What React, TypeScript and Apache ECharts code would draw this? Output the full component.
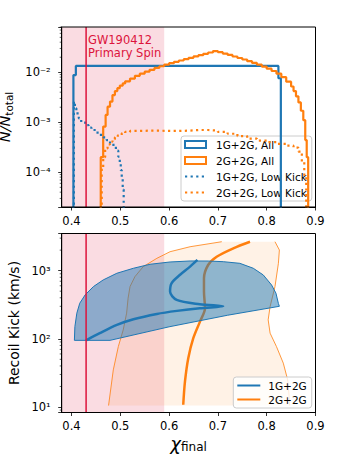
import React, { useEffect, useRef } from 'react';
import * as echarts from 'echarts';

// ---------- axes ----------
const xMin = 0.38;
const xMax = 0.9;
const xTicks = [0.4, 0.5, 0.6, 0.7, 0.8, 0.9];
const topYMin = 2.02e-5;
const topYMax = 0.0805;
const botYMin = 8.3;
const botYMax = 3510;
const floorVal = 1e-7;

// ---------- observation ----------
const spinObs = 0.43;
const spanRange = [0.38, 0.59];

// ---------- top panel: histograms (bin edges + heights) ----------
const blueAllEdges = [0.404, 0.409, 0.824, 0.829];
const blueAllHeights = [0.0088, 0.0134, 0.0076];

const orangeAllEdges = [
  0.46, 0.465, 0.47, 0.474, 0.479, 0.484, 0.489, 0.494, 0.499, 0.505, 0.51,
  0.52, 0.53, 0.54, 0.55, 0.56, 0.57, 0.58, 0.59, 0.6, 0.61, 0.62, 0.63, 0.64,
  0.65, 0.66, 0.67, 0.68, 0.69, 0.7, 0.71, 0.72, 0.73, 0.74, 0.75, 0.76, 0.77,
  0.78, 0.79, 0.8, 0.81, 0.82, 0.83, 0.84, 0.85, 0.855, 0.86, 0.865, 0.87,
  0.875, 0.879, 0.882, 0.885,
];
const orangeAllHeights = [
  2.0e-4, 8.2e-4, 1.4e-3, 2.05e-3, 2.6e-3, 3.5e-3, 4.2e-3, 4.8e-3, 5.4e-3, 6.0e-3, 6.6e-3,
  7.5e-3, 8.5e-3, 9.4e-3, 0.0103, 0.0112, 0.0122, 0.0132, 0.0142, 0.0152, 0.0162, 0.0172,
  0.0183, 0.0195, 0.0208, 0.022, 0.0234, 0.0249, 0.0265, 0.0252, 0.0237, 0.0222, 0.0207,
  0.0193, 0.018, 0.0167, 0.0154, 0.0142, 0.013, 0.0118, 0.0106, 0.0094, 0.008, 0.0065,
  0.0052, 0.0042, 0.0033, 0.0025, 0.0017, 0.0011, 4.4e-4, 2.0e-4,
];

const blueLowEdges = [
  0.405, 0.407, 0.41, 0.415, 0.42, 0.428, 0.435, 0.441, 0.45, 0.458, 0.465, 0.472,
  0.479, 0.486, 0.491, 0.496, 0.499, 0.501, 0.503, 0.505, 0.507,
];
const blueLowHeights = [
  2.6e-3, 1.9e-3, 1.5e-3, 1.2e-3, 1.0e-3, 8.8e-4, 7.8e-4, 7.0e-4, 6.2e-4, 5.6e-4, 5.0e-4,
  4.4e-4, 3.8e-4, 3.3e-4, 2.7e-4, 2.05e-4, 1.5e-4, 1.1e-4, 7.5e-5, 4.5e-5,
];

const orangeLowEdges = [
  0.462, 0.465, 0.469, 0.474, 0.479, 0.484, 0.489, 0.495, 0.503, 0.51, 0.52, 0.54, 0.56,
  0.58, 0.6, 0.62, 0.64, 0.66, 0.68, 0.7, 0.72, 0.74, 0.76, 0.78, 0.8, 0.82, 0.84, 0.855,
  0.865, 0.872, 0.877, 0.881,
];
const orangeLowHeights = [
  1.2e-4, 2.0e-4, 3.0e-4, 3.6e-4, 4.1e-4, 4.6e-4, 5.0e-4, 5.5e-4, 6.0e-4, 6.4e-4, 6.7e-4,
  6.8e-4, 6.8e-4, 6.7e-4, 6.7e-4, 6.8e-4, 7.0e-4, 7.0e-4, 6.8e-4, 6.4e-4, 5.9e-4, 5.3e-4,
  4.7e-4, 4.3e-4, 4.0e-4, 3.7e-4, 3.4e-4, 3.1e-4, 2.6e-4, 1.6e-4, 8.0e-5,
];

// ---------- bottom panel ----------
const blueBandChi = [
  0.406, 0.407, 0.411, 0.417, 0.428, 0.445, 0.465, 0.493, 0.527, 0.561, 0.602, 0.643,
  0.68, 0.711, 0.745, 0.7725, 0.793, 0.81, 0.819, 0.824, 0.826, 0.72, 0.6, 0.479, 0.406,
];
const blueBandKick = [
  95, 151, 238, 333, 441, 584, 731, 916, 1085, 1241, 1341, 1387, 1385, 1355, 1282, 1085,
  865, 617, 467, 330, 300, 222, 150, 95, 95,
];
const blueMedChi = [
  0.43, 0.458, 0.493, 0.527, 0.575, 0.616, 0.663, 0.711, 0.663, 0.6156, 0.602, 0.605,
  0.622, 0.643, 0.658,
];
const blueMedKick = [95, 121, 160, 194, 232, 257, 281, 300, 322, 373, 493, 653, 865, 1146, 1436];

const orangeMedChi = [
  0.629, 0.6326, 0.6393, 0.6496, 0.6633, 0.6736, 0.6715, 0.6715, 0.68, 0.6975, 0.7316, 0.7658,
];
const orangeMedKick = [10.8, 23.7, 52, 102, 179, 281, 493, 774, 1211, 1603, 2128, 2660];

const orangeLeftChi = [
  0.476, 0.4857, 0.496, 0.506, 0.513, 0.516, 0.52, 0.53, 0.547, 0.575, 0.602, 0.643, 0.708,
];
const orangeLeftKick = [10.5, 35, 77, 135, 238, 394, 584, 817, 1146, 1518, 1897, 2244, 2660];
const orangeRightChi = [
  0.817, 0.826, 0.824, 0.817, 0.807, 0.803, 0.807, 0.82, 0.834, 0.843, 0.846, 0.847,
];
const orangeRightKick = [2660, 2010, 1282, 584, 297, 190, 121, 77, 44, 25, 14.3, 10.5];

// ---------- minor ticks of the log axes ----------
const topMinorTicks = [
  3e-5, 4e-5, 5e-5, 6e-5, 7e-5, 8e-5, 9e-5,
  2e-4, 3e-4, 4e-4, 5e-4, 6e-4, 7e-4, 8e-4, 9e-4,
  2e-3, 3e-3, 4e-3, 5e-3, 6e-3, 7e-3, 8e-3, 9e-3,
  2e-2, 3e-2, 4e-2, 5e-2, 6e-2, 7e-2, 8e-2,
];
const botMinorTicks = [9, 20, 30, 40, 50, 60, 70, 80, 90, 200, 300, 400, 500, 600, 700, 800, 900, 2000, 3000];

const BLUE = '#1f77b4';
const ORANGE = '#ff7f0e';
const CRIMSON = '#dc143c';
const FONT = 'DejaVu Sans';

const zip = (a: number[], b: number[]) => a.map((v, i) => [v, b[i]]);

function stepData(edges: number[], heights: number[]) {
  const d: number[][] = [[edges[0], floorVal]];
  heights.forEach((h, i) => d.push([edges[i], h]));
  d.push([edges[edges.length - 1], heights[heights.length - 1]]);
  d.push([edges[edges.length - 1], floorVal]);
  return d;
}

const SUP: Record<string, string> = {
  '-': '\u207b', '0': '\u2070', '1': '\u00b9', '2': '\u00b2', '3': '\u00b3',
  '4': '\u2074', '5': '\u2075', '6': '\u2076', '7': '\u2077', '8': '\u2078', '9': '\u2079',
};
function logLabel(v: number) {
  const l = Math.log10(v);
  const e = Math.round(l);
  if (Math.abs(l - e) > 1e-6) return '';
  return '10' + String(e).split('').map((c) => SUP[c]).join('');
}

function polygonSeries(xs: number[], ys: number[], fill: string, stroke: string, lw: number, idx: number, z: number) {
  return {
    type: 'custom',
    xAxisIndex: idx,
    yAxisIndex: idx,
    z,
    silent: true,
    clip: true,
    data: [[xs[0], ys[0]]],
    renderItem: (_p: any, api: any) => ({
      type: 'polygon',
      shape: { points: xs.map((x, i) => api.coord([x, ys[i]])) },
      style: { fill, stroke, lineWidth: lw },
    }),
  };
}

function minorTickSeries(vals: number[], idx: number) {
  return {
    type: 'custom',
    xAxisIndex: idx,
    yAxisIndex: idx,
    z: 20,
    silent: true,
    clip: false,
    data: vals.map((v) => [xMin, v]),
    renderItem: (_p: any, api: any) => {
      const p = api.coord([api.value(0), api.value(1)]);
      return {
        type: 'line',
        shape: { x1: p[0] - 2, y1: p[1], x2: p[0], y2: p[1] },
        style: { stroke: '#000', lineWidth: 0.6 },
      };
    },
  };
}

function frameSeries(idx: number, yMin: number, yMax: number) {
  return {
    type: 'custom',
    xAxisIndex: idx,
    yAxisIndex: idx,
    z: 25,
    silent: true,
    clip: false,
    data: [[xMin, yMin]],
    renderItem: (_p: any, api: any) => {
      const a = api.coord([xMin, yMax]);
      const b = api.coord([xMax, yMin]);
      return {
        type: 'rect',
        shape: { x: a[0], y: a[1], width: b[0] - a[0], height: b[1] - a[1] },
        style: { fill: 'none', stroke: '#000', lineWidth: 1 },
      };
    },
  };
}

function xAxisCfg(gridIndex: number, name?: string) {
  return {
    type: 'value',
    gridIndex,
    min: xMin,
    max: xMax,
    name,
    nameLocation: 'middle',
    nameGap: 21,
    nameTextStyle: {
      rich: {
        c: { fontSize: 18, fontStyle: 'italic', fontFamily: FONT, color: '#000' },
        s: { fontSize: 12, fontFamily: FONT, color: '#000', padding: [7, 0, 0, 0] },
      },
    },
    axisLine: { show: true, onZero: false, lineStyle: { color: '#000', width: 1 } },
    axisTick: { show: true, length: 3.5, customValues: xTicks, lineStyle: { color: '#000', width: 0.8 } },
    axisLabel: {
      customValues: xTicks,
      formatter: (v: number) => v.toFixed(1),
      margin: 7.5,
      fontSize: 11.5,
      fontFamily: FONT,
      color: '#000',
    },
    splitLine: { show: false },
  };
}

function yAxisCfg(gridIndex: number, min: number, max: number, name: string, nameGap: number, rich: any, fontSize?: number) {
  return {
    type: 'log',
    logBase: 10,
    gridIndex,
    min,
    max,
    name,
    nameLocation: 'middle',
    nameRotate: 90,
    nameGap,
    nameTextStyle: { fontSize: fontSize || 14, fontFamily: FONT, color: '#000', rich },
    axisLine: { show: true, onZero: false, lineStyle: { color: '#000', width: 1 } },
    axisTick: { show: true, length: 3.5, lineStyle: { color: '#000', width: 0.8 } },
    axisLabel: { formatter: logLabel, margin: 11, fontSize: 11.5, fontFamily: FONT, color: '#000' },
    splitLine: { show: false },
  };
}

function obsSeries(idx: number, yMin: number, yMax: number) {
  return {
    type: 'line',
    xAxisIndex: idx,
    yAxisIndex: idx,
    z: 12,
    silent: true,
    symbol: 'none',
    data: [[spinObs, yMin], [spinObs, yMax]],
    lineStyle: { color: CRIMSON, width: 1.5 },
    markArea: {
      silent: true,
      itemStyle: { color: 'rgba(220,20,60,0.15)' },
      data: [[{ xAxis: spanRange[0] }, { xAxis: spanRange[1] }]],
    },
  };
}

const hiddenSymbol = { opacity: 0 };

const option: any = {
  animation: false,
  textStyle: { fontFamily: FONT },
  grid: [
    { left: 61.7, right: 24.5, top: 27, height: 180, containLabel: false, outerBoundsMode: 'none' },
    { left: 61.7, right: 24.5, top: 233.5, height: 179, containLabel: false, outerBoundsMode: 'none' },
  ],
  xAxis: [xAxisCfg(0), xAxisCfg(1, '{c|\u03c7}{s|final}')],
  yAxis: [
    yAxisCfg(0, topYMin, topYMax, '{i|N/N}{s|total}', 36.5, {
      i: { fontSize: 14.5, lineHeight: 19, fontStyle: 'italic', fontFamily: FONT, color: '#000' },
      s: { fontSize: 10.5, lineHeight: 9, verticalAlign: 'bottom', fontFamily: FONT, color: '#000' },
    }),
    yAxisCfg(1, botYMin, botYMax, 'Recoil Kick (km/s)', 39, undefined, 14),
  ],
  legend: [
    {
      orient: 'vertical',
      left: 181,
      top: 136,
      padding: [3, 5, 3, 3],
      itemGap: 5,
      itemWidth: 21,
      itemHeight: 7,
      backgroundColor: 'rgba(255,255,255,0.8)',
      borderColor: '#cccccc',
      borderWidth: 1,
      borderRadius: 3,
      textStyle: { fontSize: 10.5, fontFamily: FONT, color: '#000', padding: [0, 0, 0, 5] },
      data: [
        { name: '1G+2G, All', icon: 'rect', itemStyle: { color: 'rgba(0,0,0,0)', borderColor: BLUE, borderWidth: 2 } },
        { name: '2G+2G, All', icon: 'rect', itemStyle: { color: 'rgba(0,0,0,0)', borderColor: ORANGE, borderWidth: 2 } },
        { name: '1G+2G, Low Kick', itemStyle: hiddenSymbol },
        { name: '2G+2G, Low Kick', itemStyle: hiddenSymbol },
      ],
    },
    {
      orient: 'vertical',
      left: 233.3,
      top: 377,
      padding: [3, 5, 3, 3],
      itemGap: 3,
      itemWidth: 23,
      itemHeight: 7,
      backgroundColor: 'rgba(255,255,255,0.8)',
      borderColor: '#cccccc',
      borderWidth: 1,
      borderRadius: 3,
      textStyle: { fontSize: 10.5, fontFamily: FONT, color: '#000', padding: [0, 0, 0, 3] },
      data: [
        { name: '1G+2G', itemStyle: hiddenSymbol },
        { name: '2G+2G', itemStyle: hiddenSymbol },
      ],
    },
  ],
  graphic: [
    {
      type: 'text',
      left: 88,
      top: 33,
      z: 30,
      style: {
        text: 'GW190412\nPrimary Spin',
        fill: CRIMSON,
        fontSize: 11.5,
        fontFamily: FONT,
        lineHeight: 13.5,
      },
    },
  ],
  series: [
    // ----- top panel -----
    {
      name: '1G+2G, All', type: 'line', xAxisIndex: 0, yAxisIndex: 0, z: 5, step: 'end',
      symbol: 'none', clip: true, color: BLUE,
      lineStyle: { color: BLUE, width: 2.2 },
      data: stepData(blueAllEdges, blueAllHeights),
    },
    {
      name: '2G+2G, All', type: 'line', xAxisIndex: 0, yAxisIndex: 0, z: 6, step: 'end',
      symbol: 'none', clip: true, color: ORANGE,
      lineStyle: { color: ORANGE, width: 2.2 },
      data: stepData(orangeAllEdges, orangeAllHeights),
    },
    {
      name: '1G+2G, Low Kick', type: 'line', xAxisIndex: 0, yAxisIndex: 0, z: 7, step: 'end',
      symbol: 'none', clip: true, color: BLUE,
      lineStyle: { color: BLUE, width: 2.2, type: [2.2, 3.4] },
      data: stepData(blueLowEdges, blueLowHeights),
    },
    {
      name: '2G+2G, Low Kick', type: 'line', xAxisIndex: 0, yAxisIndex: 0, z: 7, step: 'end',
      symbol: 'none', clip: true, color: ORANGE,
      lineStyle: { color: ORANGE, width: 2.2, type: [2.2, 3.4] },
      data: stepData(orangeLowEdges, orangeLowHeights),
    },
    obsSeries(0, topYMin, topYMax),
    minorTickSeries(topMinorTicks, 0),
    frameSeries(0, topYMin, topYMax),
    // ----- bottom panel -----
    polygonSeries(
      orangeLeftChi.concat(orangeRightChi),
      orangeLeftKick.concat(orangeRightKick),
      'rgba(255,127,14,0.1)', 'none', 0, 1, 2,
    ),
    {
      type: 'line', xAxisIndex: 1, yAxisIndex: 1, z: 3, symbol: 'none', silent: true,
      lineStyle: { color: ORANGE, width: 0.8 }, data: zip(orangeLeftChi, orangeLeftKick),
    },
    {
      type: 'line', xAxisIndex: 1, yAxisIndex: 1, z: 3, symbol: 'none', silent: true,
      lineStyle: { color: ORANGE, width: 0.8 }, data: zip(orangeRightChi, orangeRightKick),
    },
    {
      name: '2G+2G', type: 'line', xAxisIndex: 1, yAxisIndex: 1, z: 4, symbol: 'none',
      smooth: 0.3, color: ORANGE,
      lineStyle: { color: ORANGE, width: 2.5 }, data: zip(orangeMedChi, orangeMedKick),
    },
    polygonSeries(blueBandChi, blueBandKick, 'rgba(31,119,180,0.5)', BLUE, 1, 1, 5),
    {
      name: '1G+2G', type: 'line', xAxisIndex: 1, yAxisIndex: 1, z: 6, symbol: 'none',
      smooth: 0.3, color: BLUE,
      lineStyle: { color: BLUE, width: 2.5 }, data: zip(blueMedChi, blueMedKick),
    },
    obsSeries(1, botYMin, botYMax),
    minorTickSeries(botMinorTicks, 1),
    frameSeries(1, botYMin, botYMax),
  ],
};

export default function App() {
  const ref = useRef<HTMLDivElement>(null);
  useEffect(() => {
    const chart = echarts.init(ref.current!, null, { renderer: 'svg' });
    chart.setOption(option);
    return () => chart.dispose();
  }, []);
  return (
    <div
      ref={ref}
      style={{ width: 340, height: 460, position: 'absolute', left: 0, top: 0 }}
    />
  );
}
